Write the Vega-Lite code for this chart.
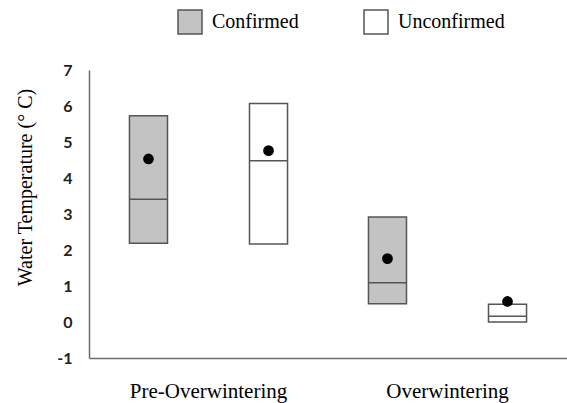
{
  "$schema": "https://vega.github.io/schema/vega-lite/v6.json",
  "width": 478,
  "height": 288,
  "autosize": {"type": "none"},
  "padding": {"left": 89, "top": 70, "right": 0, "bottom": 45},
  "background": "white",
  "data": {
    "values": [
      {"period": "Pre-Overwintering", "status": "Confirmed", "lo": 2.19, "hi": 5.73, "median": 3.41, "mean": 4.53},
      {"period": "Pre-Overwintering", "status": "Unconfirmed", "lo": 2.17, "hi": 6.07, "median": 4.48, "mean": 4.76},
      {"period": "Overwintering", "status": "Confirmed", "lo": 0.51, "hi": 2.92, "median": 1.09, "mean": 1.76},
      {"period": "Overwintering", "status": "Unconfirmed", "lo": 0.0, "hi": 0.49, "median": 0.16, "mean": 0.57}
    ]
  },
  "encoding": {
    "x": {
      "field": "period", "type": "nominal",
      "sort": ["Pre-Overwintering", "Overwintering"],
      "scale": {"paddingInner": 0, "paddingOuter": 0},
      "axis": {"title": null, "labelAngle": 0, "labelPadding": 22, "labelFontSize": 21, "labelColor": "black", "ticks": false, "domainColor": "#6e6e6e", "domainWidth": 1.5}
    },
    "xOffset": {
      "field": "status", "type": "nominal",
      "sort": ["Confirmed", "Unconfirmed"],
      "scale": {"paddingInner": 0.683, "paddingOuter": 0.337}
    },
    "y": {
      "field": "lo", "type": "quantitative",
      "scale": {"domain": [-1, 7], "nice": false, "zero": false},
      "axis": {
        "title": "Water Temperature (° C)",
        "values": [-1, 0, 1, 2, 3, 4, 5, 6, 7],
        "labelExpr": "datum.value < 0 ? '-' + abs(datum.value) : '' + datum.value",
        "labelOverlap": false,
        "grid": false, "ticks": false,
        "labelFont": "Lato", "labelFontSize": 16, "labelFontWeight": "bold", "labelColor": "#222222", "labelPadding": 17,
        "titleFontSize": 20, "titleFontWeight": "normal", "titleColor": "black",
        "titleX": -64, "titleY": 117, "titleAngle": -90, "titleAlign": "center", "titleBaseline": "middle",
        "domainColor": "#6e6e6e", "domainWidth": 1.5
      }
    }
  },
  "layer": [
    {
      "mark": {"type": "bar", "stroke": "#555555", "strokeWidth": 1.5},
      "encoding": {
        "y2": {"field": "hi"},
        "fill": {
          "field": "status", "type": "nominal",
          "sort": ["Confirmed", "Unconfirmed"],
          "scale": {"domain": ["Confirmed", "Unconfirmed"], "range": ["#c3c3c3", "#ffffff"]},
          "legend": {
            "title": null, "orient": "none", "direction": "horizontal",
            "legendX": 88, "legendY": -61, "padding": 0,
            "symbolType": "square", "symbolSize": 576, "symbolStrokeColor": "#555555", "symbolStrokeWidth": 1.5,
            "labelFontSize": 20, "labelColor": "black", "labelOffset": 9,
            "columnPadding": 62
          }
        }
      }
    },
    {
      "mark": {"type": "bar", "stroke": "#555555", "strokeWidth": 1.5, "fillOpacity": 0},
      "encoding": {
        "y": {"field": "median", "type": "quantitative"},
        "y2": {"field": "median"}
      }
    },
    {
      "mark": {"type": "point", "filled": true, "color": "black", "opacity": 1, "size": 115},
      "encoding": {
        "y": {"field": "mean", "type": "quantitative"}
      }
    }
  ],
  "config": {
    "font": "Liberation Serif",
    "axis": {"labelFont": "Liberation Serif", "titleFont": "Liberation Serif"},
    "axisY": {"labelOverlap": false},
    "legend": {"labelFont": "Liberation Serif"},
    "view": {"stroke": null}
  }
}
